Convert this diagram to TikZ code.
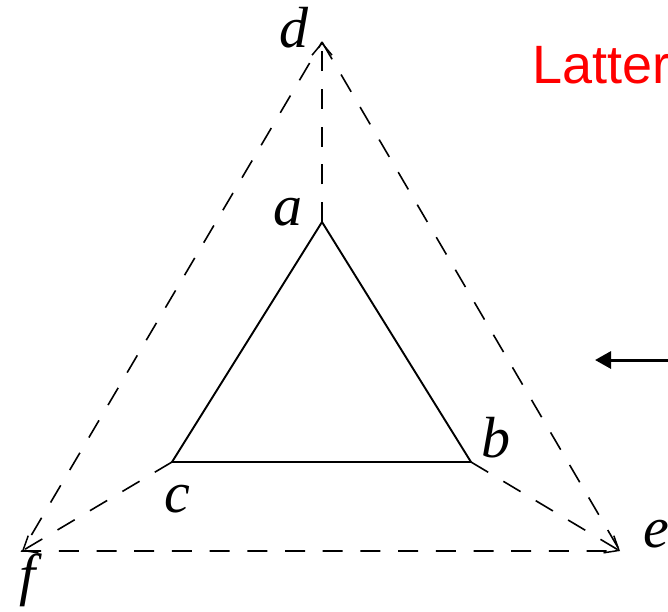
\documentclass[tikz,border=0pt]{standalone}
\usepackage{fontspec}
\setmainfont{Liberation Serif}
\newfontfamily\arialfont{Liberation Sans}
\usetikzlibrary{arrows.meta}
\begin{document}
\begin{tikzpicture}[x=1pt,y=-1pt,
  lbl/.style={font=\fontsize{58}{60}\selectfont\itshape, inner sep=0pt, anchor=base},
  dsh/.style={line width=1.6pt, dash pattern=on 20pt off 17.7pt},
  pt/.style={inner sep=0pt, minimum size=0pt},
  solidedge/.style={line width=1.9pt}]
\useasboundingbox (0,0) rectangle (668,611);
\clip (0,0) rectangle (668,611);
\node[pt] (a) at (322,222) {};
\node[pt] (b) at (471,462) {};
\node[pt] (c) at (172,462) {};
\node[pt] (d) at (322,42) {};
\node[pt] (e) at (620,551) {};
\node[pt] (f) at (22,551) {};
\draw[solidedge, line join=miter] (a.center) -- (b.center) -- (c.center) -- cycle;
\draw[dsh] (d.center) -- (e.center) -- (f.center) -- cycle;
\draw[dsh, -{Straight Barb[length=12pt,width=20pt,line width=1.5pt]}] (a.center) -- (d.center);
\draw[dsh, -{Straight Barb[length=12pt,width=20pt,line width=1.5pt]}] (b.center) -- (e.center);
\draw[dsh, -{Straight Barb[length=12pt,width=20pt,line width=1.5pt]}] (c.center) -- (f.center);
\node[lbl] (ld) at (294,47) {d};
\node[lbl] (la) at (288,225) {a};
\node[lbl] (lb) at (496,457) {b};
\node[lbl] (lc) at (177,512) {c};
\node[lbl] (le) at (656,547) {e};
\node[lbl] (lf) at (28,594) {f};
\node[font=\arialfont\fontsize{54}{56}\selectfont, text=red, inner sep=0pt, anchor=base west] (latter) at (532,83) {Latter};
\coordinate (arrstart) at (680,360);
\coordinate (arrend) at (595,360);
\draw[line width=3pt, -{Triangle[length=16pt,width=17pt]}] (arrstart) -- (arrend);
\end{tikzpicture}
\end{document}
